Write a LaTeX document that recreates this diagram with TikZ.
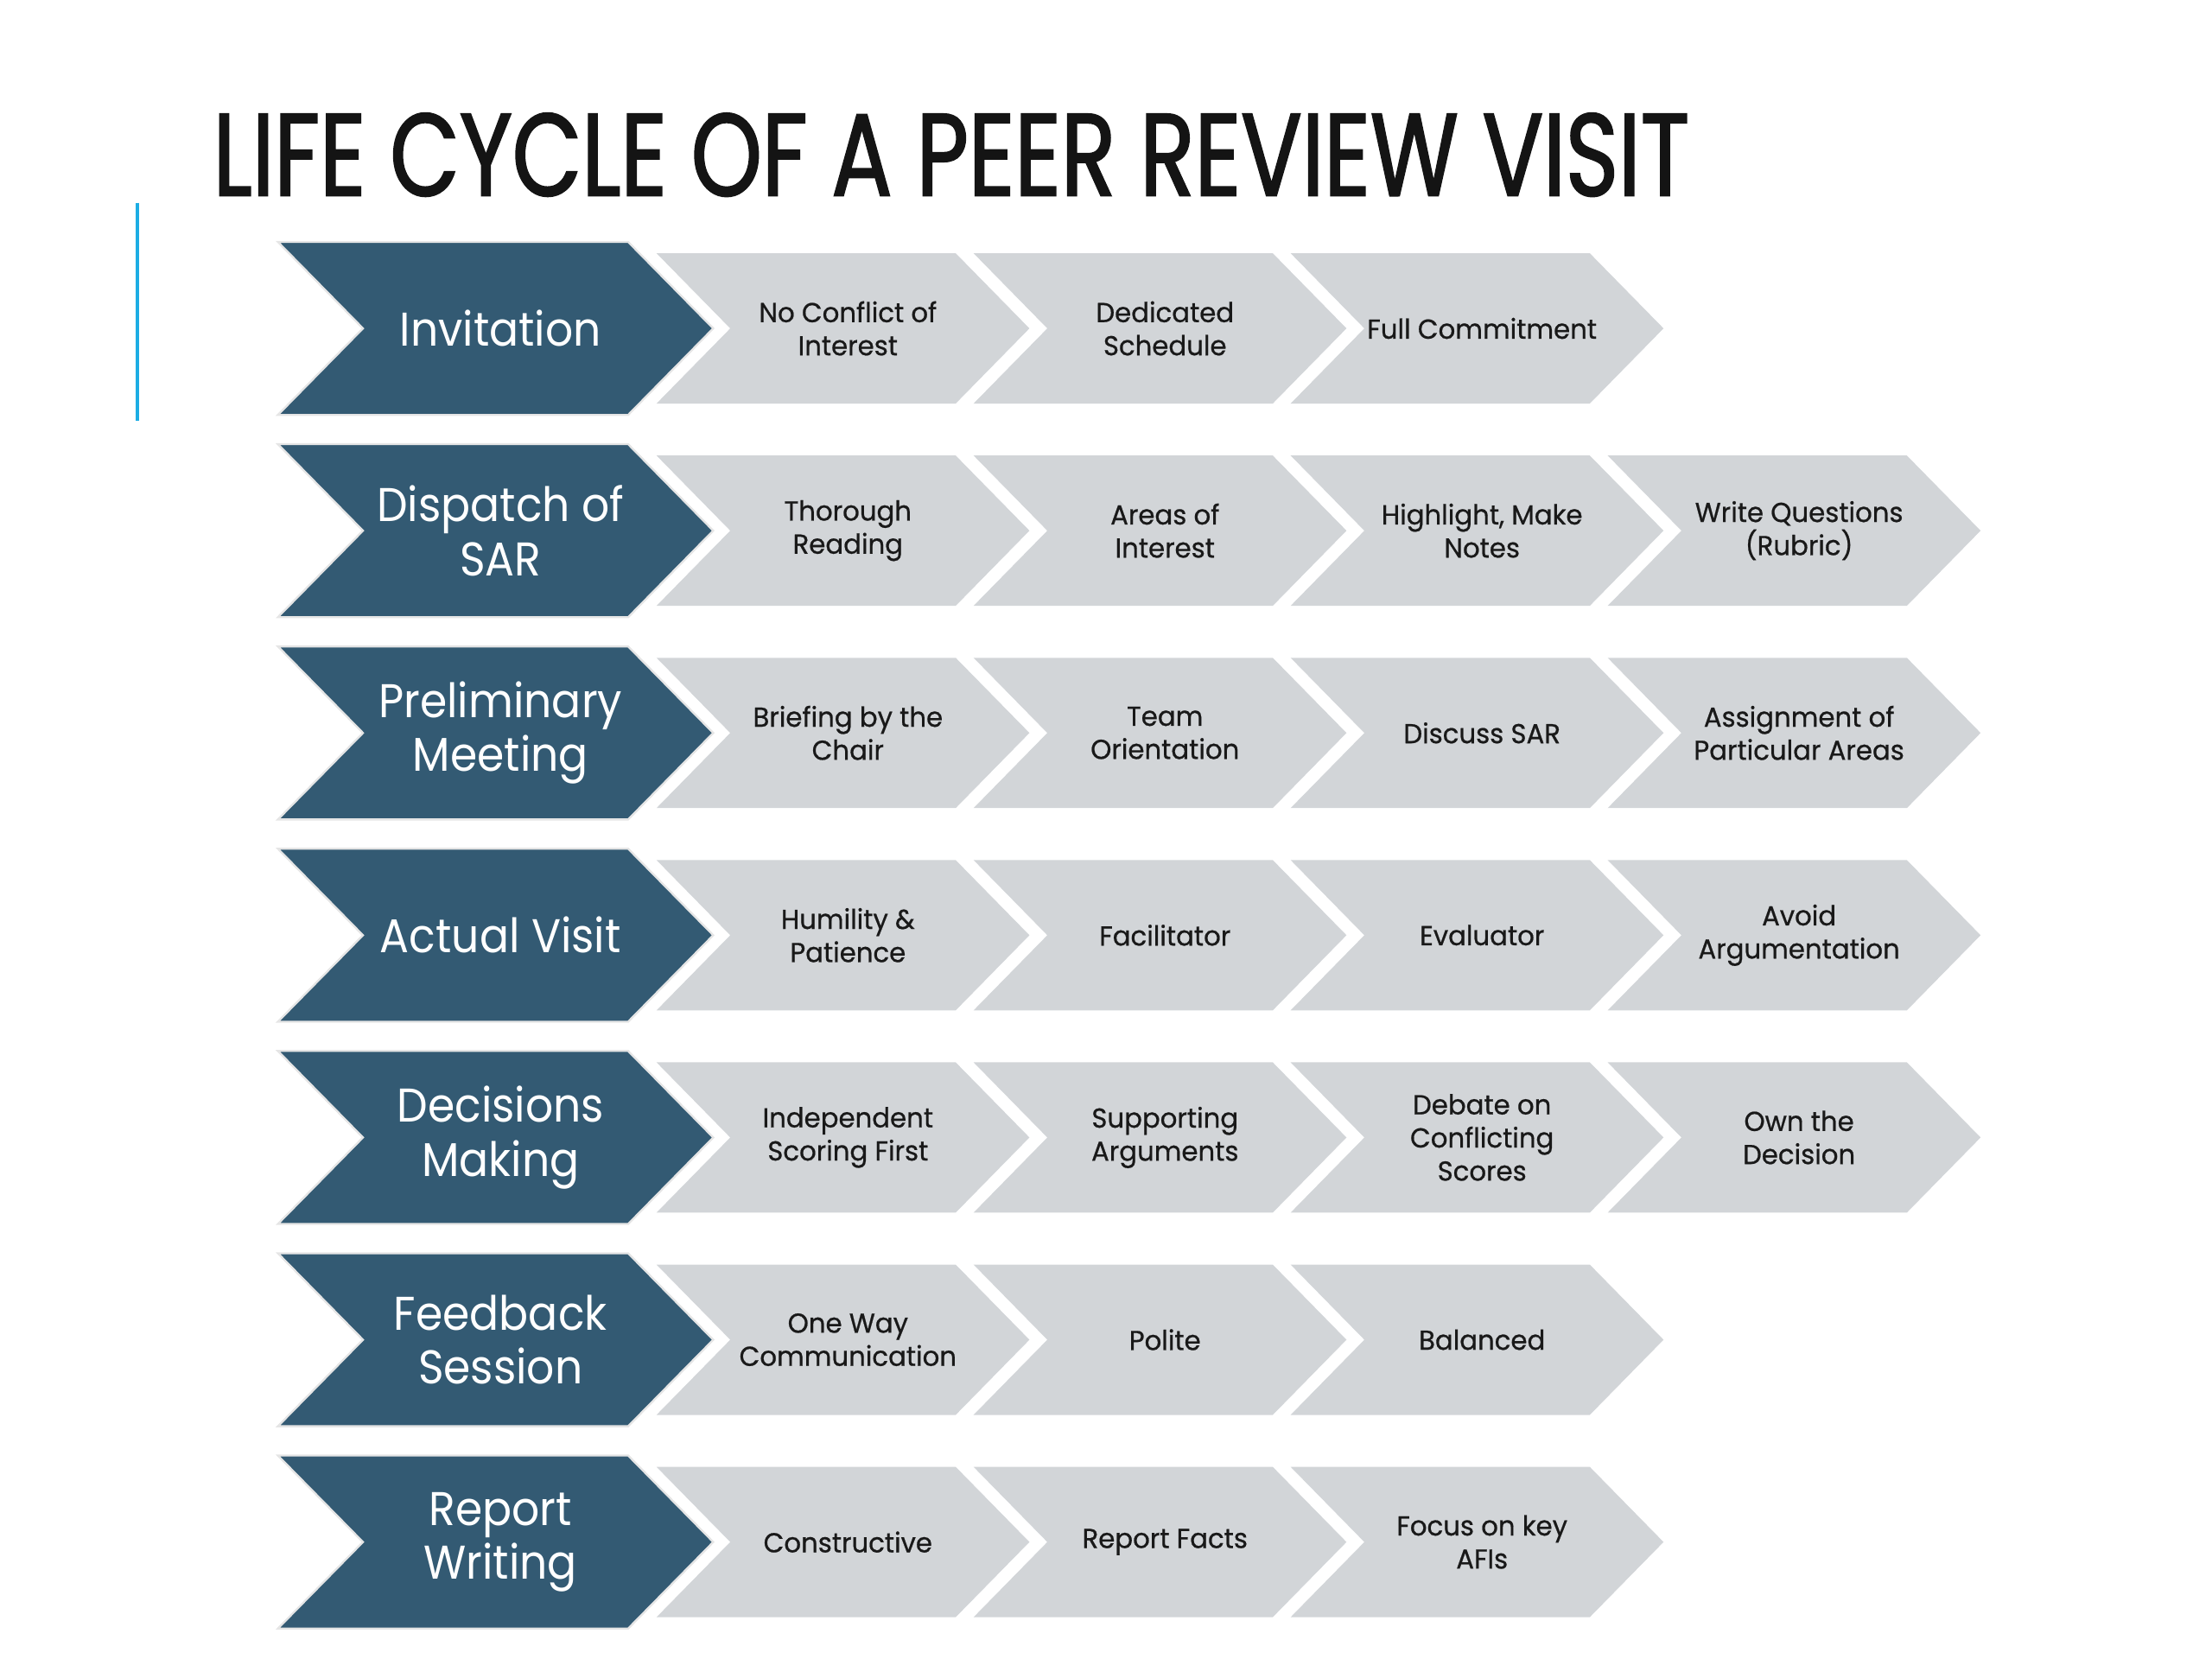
\documentclass[tikz,border=0pt]{standalone}
\usepackage{fontspec}
\newfontfamily\titlefont[FakeStretch=0.77, FakeBold=1.5]{Poppins}
\newfontfamily\stagefont[FakeStretch=0.92]{Poppins}
\newfontfamily\stepfont[FakeBold=0.6, FakeStretch=0.97]{Poppins}
\definecolor{stageblue}{HTML}{335A73}
\definecolor{stepgray}{HTML}{D2D5D8}
\definecolor{barcyan}{HTML}{1CADE4}

\newcommand{\rowsep}{142.65}
\newcommand{\colsep}{223.6}
\newcommand{\rowy}[1]{231.6+#1*\rowsep}
\newcommand{\colx}[1]{463+#1*\colsep}

% stage chevron: name, row, text
\newcommand{\stagechev}[3]{
    \fill[stagefill] (196,{\rowy{#2}-61}) -- (443,{\rowy{#2}-61}) -- (503,{\rowy{#2}})
        -- (443,{\rowy{#2}+61}) -- (196,{\rowy{#2}+61}) -- (256,{\rowy{#2}}) -- cycle;
    \node[stagetext] (#1) at (353,{\rowy{#2}}) {#3};
}
% step chevron: name, column, row, text
\newcommand{\stepchev}[4]{
    \fill[stepfill] ({\colx{#2}},{\rowy{#3}-53}) -- ({\colx{#2}+211},{\rowy{#3}-53})
        -- ({\colx{#2}+263},{\rowy{#3}}) -- ({\colx{#2}+211},{\rowy{#3}+53})
        -- ({\colx{#2}},{\rowy{#3}+53}) -- ({\colx{#2}+52},{\rowy{#3}}) -- cycle;
    \node[steptext] (#1) at ({\colx{#2}+135},{\rowy{#3}}) {#4};
}

\begin{document}
\begin{tikzpicture}[x=0.02cm, y=-0.02cm,
    stagefill/.style={fill=stageblue, draw=black!10, line width=0.8pt},
    stepfill/.style={fill=stepgray},
    stagetext/.style={text=white, align=center, inner sep=0pt,
        font={\stagefont\fontsize{19}{21.6}\selectfont}},
    steptext/.style={text=black!90, align=center, inner sep=0pt,
        font={\stepfont\fontsize{11}{13.3}\selectfont}}]
            \useasboundingbox (0,0) rectangle (1560,1170);

            \node[anchor=base west, inner sep=0pt, text=black!92,
                font={\titlefont\fontsize{47}{50}\selectfont}] (title) at (150,138)
                {LIFE CYCLE OF A PEER REVIEW VISIT};
            \coordinate (barTop) at (97,143);
            \coordinate (barBot) at (97,297);
            \draw[barcyan, line width=1.2pt] (barTop) -- (barBot);

            \stagechev{s0}{0}{Invitation}
            \stepchev{s0a}{0}{0}{No Conflict of\\Interest}
            \stepchev{s0b}{1}{0}{Dedicated\\Schedule}
            \stepchev{s0c}{2}{0}{Full Commitment}

            \stagechev{s1}{1}{Dispatch of\\SAR}
            \stepchev{s1a}{0}{1}{Thorough\\Reading}
            \stepchev{s1b}{1}{1}{Areas of\\Interest}
            \stepchev{s1c}{2}{1}{Highlight, Make\\Notes}
            \stepchev{s1d}{3}{1}{Write Questions\\(Rubric)}

            \stagechev{s2}{2}{Preliminary\\Meeting}
            \stepchev{s2a}{0}{2}{Briefing by the\\Chair}
            \stepchev{s2b}{1}{2}{Team\\Orientation}
            \stepchev{s2c}{2}{2}{Discuss SAR}
            \stepchev{s2d}{3}{2}{Assignment of\\Particular Areas}

            \stagechev{s3}{3}{Actual Visit}
            \stepchev{s3a}{0}{3}{Humility \&\\Patience}
            \stepchev{s3b}{1}{3}{Facilitator}
            \stepchev{s3c}{2}{3}{Evaluator}
            \stepchev{s3d}{3}{3}{Avoid\\Argumentation}

            \stagechev{s4}{4}{Decisions\\Making}
            \stepchev{s4a}{0}{4}{Independent\\Scoring First}
            \stepchev{s4b}{1}{4}{Supporting\\Arguments}
            \stepchev{s4c}{2}{4}{Debate on\\Conflicting\\Scores}
            \stepchev{s4d}{3}{4}{Own the\\Decision}

            \stagechev{s5}{5}{Feedback\\Session}
            \stepchev{s5a}{0}{5}{One Way\\Communication}
            \stepchev{s5b}{1}{5}{Polite}
            \stepchev{s5c}{2}{5}{Balanced}

            \stagechev{s6}{6}{Report\\Writing}
            \stepchev{s6a}{0}{6}{Constructive}
            \stepchev{s6b}{1}{6}{Report Facts}
            \stepchev{s6c}{2}{6}{Focus on key\\AFIs}

        \end{tikzpicture}
\end{document}
